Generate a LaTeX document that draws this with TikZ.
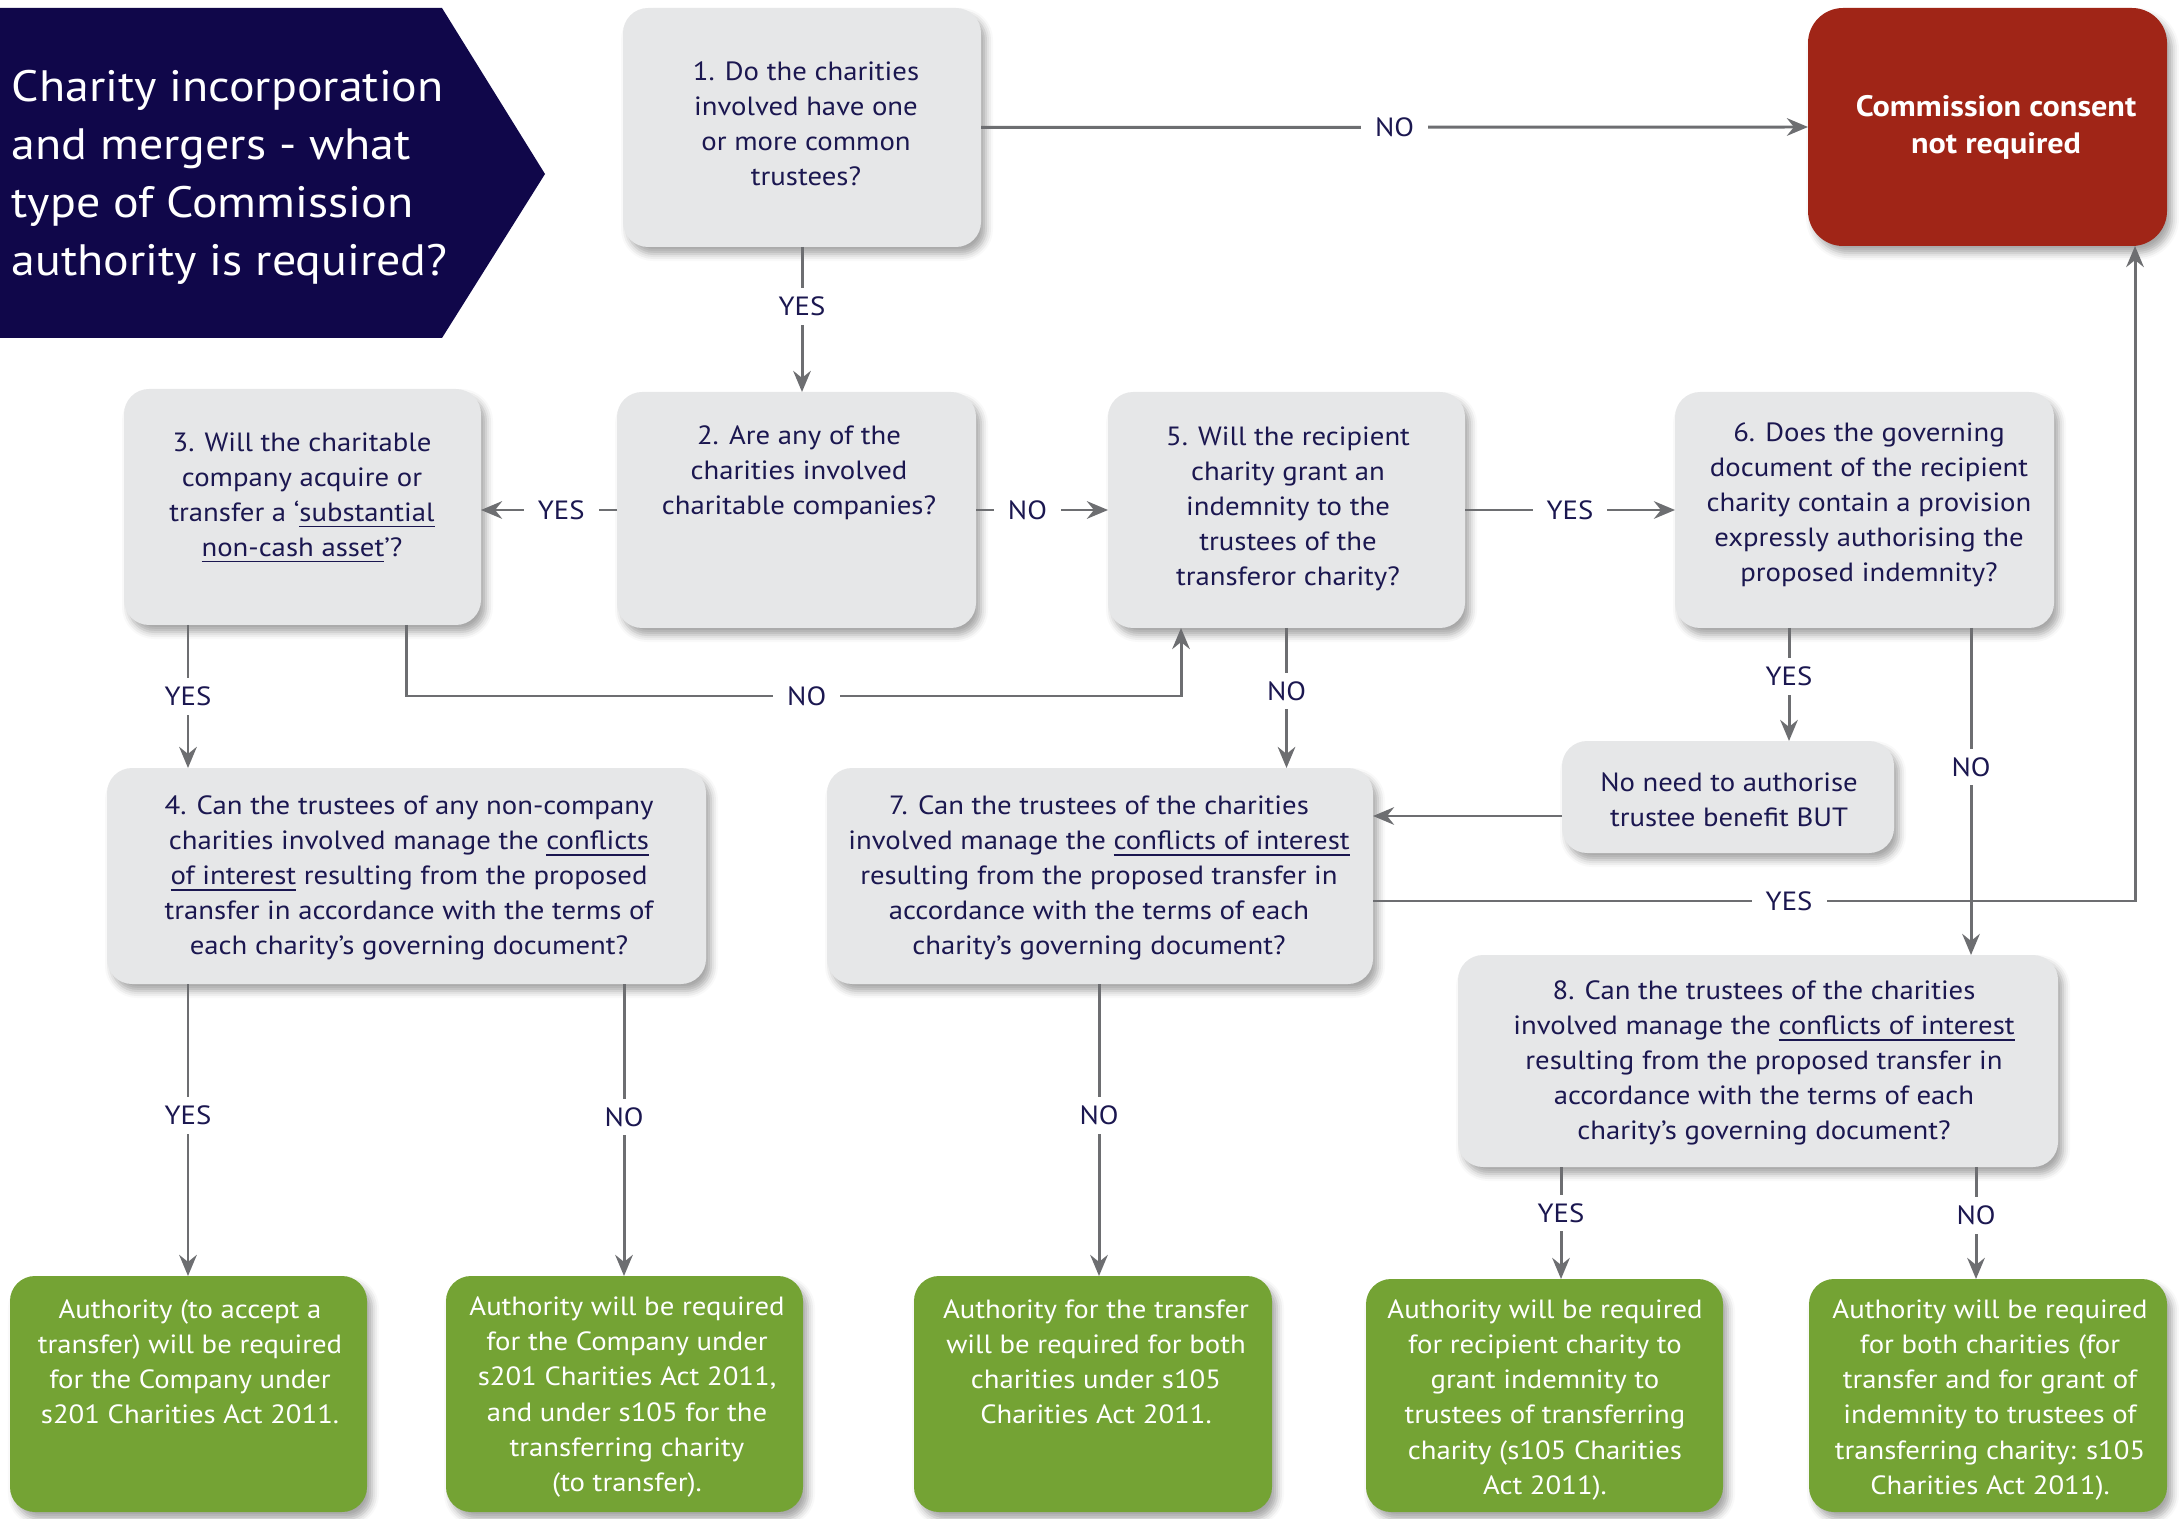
\documentclass[tikz,border=0pt]{standalone}
\usepackage{fontspec}
\setmainfont{PT Sans}[FakeStretch=1.09]
\usetikzlibrary{arrows.meta,shadows.blur}
\definecolor{navy}{HTML}{1B1750}
\definecolor{titlebg}{HTML}{10074A}
\definecolor{boxgray}{HTML}{E6E7E8}
\definecolor{linegray}{HTML}{6D6E71}
\definecolor{redbox}{HTML}{A02517}
\definecolor{greenbox}{HTML}{74A334}
\newcommand\bx[6]{\node[#2, minimum width=#5*0.01cm, minimum height=#6*0.01cm] (#1) at (#3,#4) {};}
\tikzset{
  shadowed/.style={blur shadow={shadow xshift=0.05cm, shadow yshift=-0.07cm, shadow blur radius=0.07cm, shadow opacity=35}},
  qbox/.style={fill=boxgray, rounded corners=0.25cm, inner sep=0pt, outer sep=0pt, shadowed},
  rbox/.style={fill=redbox, rounded corners=0.35cm, inner sep=0pt, outer sep=0pt, shadowed},
  gbox/.style={fill=greenbox, rounded corners=0.25cm, inner sep=0pt, outer sep=0pt, shadowed},
  txt/.style={align=center, text=navy, inner sep=0pt, font=\fontsize{7.5}{9.96}\selectfont},
  wtxt/.style={align=center, text=white, inner sep=0pt, font=\fontsize{7.5}{9.96}\selectfont},
  arr/.style={draw=linegray, line width=0.85pt, -{Stealth[length=6pt,width=5pt,inset=2pt]}},
  lab/.style={fill=white, text=navy, inner xsep=4pt, inner ysep=2.5pt, font=\fontsize{7.5}{9}\selectfont},
}
\begin{document}
\begin{tikzpicture}[x=0.01cm,y=-0.01cm]
\useasboundingbox (0,0) rectangle (2179,1519);
% title
\fill[titlebg] (0,8) -- (442,8) -- (545,174) -- (442,338) -- (0,338) -- cycle;
\node[anchor=west, align=left, text=white, inner sep=0pt, font=\fontsize{12.5}{16.5}\selectfont] (title) at (11,177)
  {Charity incorporation\\and mergers - what\\type of Commission\\authority is required?};
% boxes
\bx{b1}{qbox}{802}{127.5}{358}{239}
\bx{red}{rbox}{1987.5}{127}{359}{238}
\bx{b2}{qbox}{796.5}{510}{359}{236}
\bx{b3}{qbox}{302.5}{507}{357}{236}
\bx{b5}{qbox}{1286.5}{510}{357}{236}
\bx{b6}{qbox}{1864.5}{510}{379}{236}
\bx{nn}{qbox}{1728}{797}{332}{112}
\bx{b4}{qbox}{406.5}{876}{599}{216}
\bx{b7}{qbox}{1100}{876}{546}{216}
\bx{b8}{qbox}{1758}{1061}{600}{212}
\bx{g1}{gbox}{188.5}{1394}{357}{236}
\bx{g2}{gbox}{624.5}{1394}{357}{236}
\bx{g3}{gbox}{1093}{1394}{358}{236}
\bx{g4}{gbox}{1544.5}{1395.5}{357}{233}
\bx{g5}{gbox}{1988}{1395.5}{358}{233}
% texts
\node[txt] (t1) at (806,124) {1. Do the charities\\involved have one\\or more common\\trustees?};
\node[wtxt, font=\fontsize{8.4}{10.5}\selectfont\bfseries] (tr) at (1996,127) {Commission consent\\not required};
\node[txt] (t2) at (799,473) {2. Are any of the\\charities involved\\charitable companies?};
\node[txt] (t3) at (302,498) {3. Will the charitable\\company acquire or\\transfer a ‘\underline{substantial}\\\underline{non-cash asset}’?};
\node[txt] (t5) at (1288,509) {5. Will the recipient\\charity grant an\\indemnity to the\\trustees of the\\transferor charity?};
\node[txt] (t6) at (1869,505) {6. Does the governing\\document of the recipient\\charity contain a provision\\expressly authorising the\\proposed indemnity?};
\node[txt] (tnn) at (1729,800) {No need to authorise\\trustee benefit BUT};
\node[txt] (t4) at (409,878) {4. Can the trustees of any non-company\\charities involved manage the \underline{conflicts}\\\underline{of interest} resulting from the proposed\\transfer in accordance with the terms of\\each charity’s governing document?};
\node[txt] (t7) at (1099,878) {7. Can the trustees of the charities\\involved manage the \underline{conflicts of interest}\\resulting from the proposed transfer in\\accordance with the terms of each\\charity’s governing document?};
\node[txt] (t8) at (1764,1063) {8. Can the trustees of the charities\\involved manage the \underline{conflicts of interest}\\resulting from the proposed transfer in\\accordance with the terms of each\\charity’s governing document?};
\node[wtxt] (tg1) at (190,1362) {Authority (to accept a\\transfer) will be required\\for the Company under\\s201 Charities Act 2011.};
\node[wtxt] (tg2) at (627,1397) {Authority will be required\\for the Company under\\s201 Charities Act 2011,\\and under s105 for the\\transferring charity\\(to transfer).};
\node[wtxt] (tg3) at (1096,1362) {Authority for the transfer\\will be required for both\\charities under s105\\Charities Act 2011.};
\node[wtxt] (tg4) at (1545,1400) {Authority will be required\\for recipient charity to\\grant indemnity to\\trustees of transferring\\charity (s105 Charities\\Act 2011).};
\node[wtxt] (tg5) at (1990,1400) {Authority will be required\\for both charities (for\\transfer and for grant of\\indemnity to trustees of\\transferring charity: s105\\Charities Act 2011).};
% helper coordinates
\coordinate (c188) at (188,0);
\coordinate (c624) at (624,0);
\coordinate (c1099) at (1099,0);
\coordinate (c1561) at (1561,0);
\coordinate (c1976) at (1976,0);
\coordinate (c1789) at (1789,0);
\coordinate (c1971) at (1971,0);
\coordinate (c816) at (0,816);
\coordinate (k1) at (406,696);
\coordinate (k2) at (1181,696);
\coordinate (k3) at (2135,901);
% connectors
\draw[arr] (b1.east) -- node[lab]{NO} (red.west);
\draw[arr] (b1.south) -- node[lab,pos=0.41]{YES} (b1.south |- b2.north);
\draw[arr] (b2.west) -- node[lab,pos=0.41]{YES} (b2.west -| b3.east);
\draw[arr] (b2.east) -- node[lab,pos=0.39]{NO} (b5.west);
\draw[arr] (b5.east) -- node[lab]{YES} (b6.west);
\draw[arr] (b3.south -| c188) -- node[lab]{YES} (b4.north -| c188);
\draw[arr] (b3.south -| k1) -- (k1) -- node[lab,pos=0.517]{NO} (k2) -- (b5.south -| k2);
\draw[arr] (b5.south) -- node[lab,pos=0.45]{NO} (b5.south |- b7.north);
\draw[arr] (b6.south -| c1789) -- node[lab,pos=0.43]{YES} (nn.north -| c1789);
\draw[arr] (b6.south -| c1971) -- node[lab,pos=0.425]{NO} (b8.north -| c1971);
\draw[arr] (nn.west |- c816) -- (b7.east |- c816);
\draw[arr] (b7.east |- k3) -- node[lab,pos=0.546]{YES} (k3) -- (red.south -| k3);
\draw[arr] (b4.south -| c188) -- node[lab,pos=0.45]{YES} (g1.north -| c188);
\draw[arr] (b4.south -| c624) -- node[lab,pos=0.455]{NO} (g2.north -| c624);
\draw[arr] (b7.south -| c1099) -- node[lab,pos=0.45]{NO} (g3.north -| c1099);
\draw[arr] (b8.south -| c1561) -- node[lab,pos=0.41]{YES} (g4.north -| c1561);
\draw[arr] (b8.south -| c1976) -- node[lab,pos=0.43]{NO} (g5.north -| c1976);
\end{tikzpicture}
\end{document}
